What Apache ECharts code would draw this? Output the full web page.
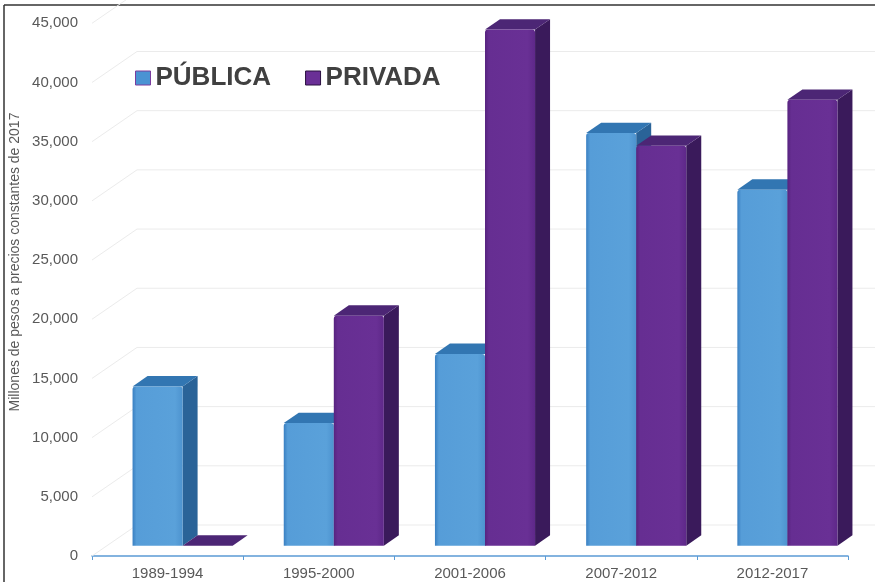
<!DOCTYPE html>
<html>
<head>
<meta charset="utf-8">
<script src="https://cdn.jsdelivr.net/npm/echarts@6/dist/echarts.min.js"></script>
<style>html,body{margin:0;padding:0;background:#fff}#c{width:875px;height:582px}</style>
</head>
<body>
<div id="c"></div>
<script>
const categories = ['1989-1994', '1995-2000', '2001-2006', '2007-2012', '2012-2017'];
const publica = [13450, 10360, 16200, 34860, 30070];
const privada = [0, 19430, 43600, 33780, 37670];
const yTickValues = [0, 5000, 10000, 15000, 20000, 25000, 30000, 35000, 40000, 45000];
const seriesNames = ['PÚBLICA', 'PRIVADA'];
const yTitle = 'Millones de pesos a precios constantes de 2017';

const WALL_DX = 45, WALL_DY = 31;
const DX = WALL_DX / 3, DY = WALL_DY / 3;

const palettes = [
  { front: new echarts.graphic.LinearGradient(0, 0, 1, 0, [
      { offset: 0, color: '#3a80c2' }, { offset: 0.08, color: '#569dd8' },
      { offset: 0.85, color: '#5aa1da' }, { offset: 1, color: '#4d93cf' }]),
    side: '#2a6398', top: '#3276b2', legend: '#4a93d3', legendBorder: '#7a3c9e' },
  { front: new echarts.graphic.LinearGradient(0, 0, 1, 0, [
      { offset: 0, color: '#57237f' }, { offset: 0.08, color: '#662e92' },
      { offset: 0.85, color: '#693095' }, { offset: 1, color: '#5e2889' }]),
    side: '#3a1a5b', top: '#4c2675', legend: '#6a2f96', legendBorder: '#2a1040' }
];

function barRenderer(s) {
  return function (params, api) {
    const ci = api.value(0), v = api.value(1);
    const base = api.coord([ci, 0]);
    const top = api.coord([ci, v]);
    const bandW = api.size([1, 0])[0];
    const barW = bandW * 0.331;
    const x0 = base[0] - barW + s * barW + DX;
    const x1 = x0 + barW;
    const yb = base[1] - DY;
    const yt = top[1] - DY;
    const p = palettes[s];
    const children = [];
    children.push({ type: 'polygon', shape: { points: [[x1, yb], [x1, yt], [x1 + DX, yt - DY], [x1 + DX, yb - DY]] },
      style: { fill: p.side } });
    children.push({ type: 'polygon', shape: { points: [[x0, yt], [x1, yt], [x1 + DX, yt - DY], [x0 + DX, yt - DY]] },
      style: { fill: p.top } });
    if (yb - yt > 0.5) {
      children.push({ type: 'rect', shape: { x: x0, y: yt, width: barW, height: yb - yt, r: [3, 3, 0, 0] },
        style: { fill: p.front } });
    }
    return { type: 'group', children: children };
  };
}

function gridRenderer(params, api) {
  const cs = params.coordSys;
  const y = api.coord([0, api.value(1)])[1];
  return { type: 'polyline',
    shape: { points: [[cs.x, y], [cs.x + WALL_DX, y - WALL_DY], [875, y - WALL_DY]] },
    style: { stroke: '#ebebeb', lineWidth: 1, fill: null } };
}

const chart = echarts.init(document.getElementById('c'), null, { renderer: 'canvas' });
chart.setOption({
  animation: false,
  backgroundColor: '#ffffff',
  textStyle: { fontFamily: 'Liberation Sans, Arial, sans-serif' },
  grid: { left: 92, right: 27, top: 23.3, bottom: 26, containLabel: false },
  legend: {
    left: 135, top: 65, padding: 0, itemGap: 34, itemWidth: 15, itemHeight: 14,
    icon: 'rect',
    textStyle: { fontSize: 26, fontWeight: 'bold', color: '#404040', padding: [0, 0, 0, 0] },
    data: seriesNames.map((n, i) => ({ name: n, itemStyle: { color: palettes[i].legend, borderColor: palettes[i].legendBorder, borderWidth: 1 } }))
  },
  xAxis: {
    type: 'category', data: categories, boundaryGap: true,
    axisLine: { lineStyle: { color: '#5b9bd5', width: 1.5 } },
    axisTick: { show: true, length: 4, alignWithLabel: false, lineStyle: { color: '#5b9bd5' } },
    axisLabel: { color: '#595959', fontSize: 15, margin: 10 },
    splitLine: { show: false }
  },
  yAxis: {
    type: 'value', min: 0, max: 45000, interval: 5000,
    axisLine: { show: false }, axisTick: { show: false }, splitLine: { show: false },
    axisLabel: { color: '#595959', fontSize: 15, margin: 14,
      formatter: v => v.toLocaleString('en-US') }
  },
  graphic: [
    { type: 'text', x: 15, y: 262, rotation: Math.PI / 2,
      style: { text: yTitle, fill: '#595959', fontSize: 14, fontFamily: 'Liberation Sans, Arial, sans-serif',
        align: 'center', verticalAlign: 'middle' } },
    { type: 'line', shape: { x1: 4, y1: 5, x2: 875, y2: 5 }, style: { stroke: '#333', lineWidth: 1.5 } },
    { type: 'line', shape: { x1: 4, y1: 5, x2: 4, y2: 582 }, style: { stroke: '#333', lineWidth: 1.5 } }
  ],
  series: [
    { name: '_grid', type: 'custom', renderItem: gridRenderer, z: 1, silent: true,
      data: yTickValues.map(v => [0, v]), encode: { x: 0, y: 1 } },
    { name: seriesNames[0], type: 'custom', renderItem: barRenderer(0), z: 3,
      itemStyle: { color: palettes[0].legend },
      data: publica.map((v, i) => [i, v]), encode: { x: 0, y: 1 } },
    { name: seriesNames[1], type: 'custom', renderItem: barRenderer(1), z: 4,
      itemStyle: { color: palettes[1].legend },
      data: privada.map((v, i) => [i, v]), encode: { x: 0, y: 1 } }
  ]
});
</script>
</body>
</html>
